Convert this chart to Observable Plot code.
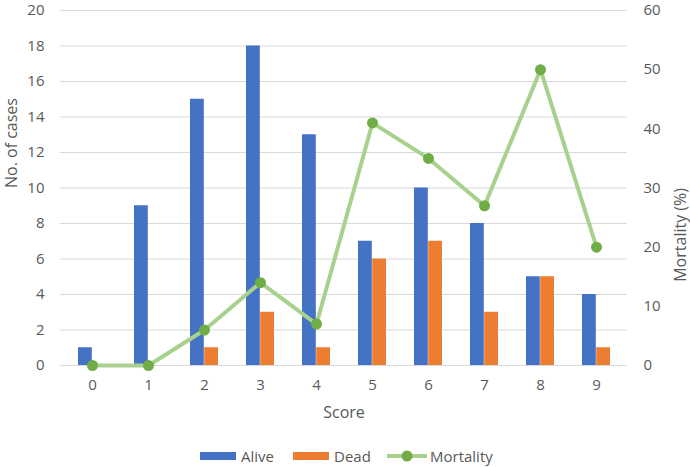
<!DOCTYPE html>
<html><head><meta charset="utf-8">
<script src="https://cdn.jsdelivr.net/npm/d3@7"></script>
<script src="https://cdn.jsdelivr.net/npm/@observablehq/plot@0.6"></script>
<style>
body{margin:0;background:#fff;font-family:"Open Sans",sans-serif;}
#legend{position:relative;height:37px;font-size:15px;color:#595959;}
.item{position:absolute;top:17px;display:flex;align-items:center;height:18px;transform:translateY(-50%);white-space:nowrap;}
.sw{width:36px;height:8px;margin-right:5px;}
</style></head>
<body><div id="chart"></div><div id="legend"></div>
<script>
const scores = ["0","1","2","3","4","5","6","7","8","9"];
const alive = [1, 9, 15, 18, 13, 7, 10, 8, 5, 4];
const dead = [0, 0, 1, 3, 1, 6, 7, 3, 5, 1];
const mortality = [0, 0, 6, 14, 7, 41, 35, 27, 50, 20];
const leftTicks = [0,2,4,6,8,10,12,14,16,18,20];
const rightTicks = [0,10,20,30,40,50,60];
const ratio = 20/60;

const data = scores.map((s,i)=>({score:s, alive:alive[i], dead:dead[i], mort:mortality[i]*ratio}));
const txt = "#595959";

const plot = Plot.plot({
  width: 690, height: 430,
  marginLeft: 60, marginRight: 63, marginTop: 10, marginBottom: 65,
  style: {fontFamily: "Open Sans, sans-serif", fontSize: "15px", color: txt, overflow: "visible"},
  x: {domain: scores, paddingInner: 0.5, paddingOuter: 0.25, axis: null},
  y: {domain: [0,20], axis: null},
  marks: [
    Plot.gridY(leftTicks, {stroke: "#d9d9d9", strokeOpacity: 1, strokeWidth: 1}),
    Plot.barY(data, {x: "score", y: "alive", fill: "#4472C4", insetRight: 14.2}),
    Plot.barY(data, {x: "score", y: "dead", fill: "#ED7D31", insetLeft: 14.2}),
    Plot.line(data, {x: "score", y: "mort", stroke: "#A9D18E", strokeWidth: 4}),
    Plot.dot(data, {x: "score", y: "mort", fill: "#70AD47", r: 5.5}),
    Plot.axisY(leftTicks, {anchor: "left", tickSize: 0, tickPadding: 16, label: null, fill: txt, fontSize: 15}),
    Plot.axisY(rightTicks.map(d=>d*ratio), {anchor: "right", tickSize: 0, tickPadding: 16, label: null, tickFormat: d => Math.round(d/ratio), fill: txt, fontSize: 15}),
    Plot.axisX({anchor: "bottom", tickSize: 0, tickPadding: 14, label: null, fill: txt, fontSize: 15}),
    Plot.text(["No. of cases"], {frameAnchor: "left", dx: -49, rotate: -90, fontSize: 16, fill: txt, lineAnchor: "middle"}),
    Plot.text(["Mortality (%)"], {frameAnchor: "right", dx: 53, rotate: -90, fontSize: 16, fill: txt, lineAnchor: "middle"}),
    Plot.text(["Score"], {frameAnchor: "bottom", dy: 47, fontSize: 16, fill: txt, lineAnchor: "middle"})
  ]
});
document.getElementById("chart").appendChild(plot);

const legend = document.getElementById("legend");
legend.style.marginTop = "9px";
legend.innerHTML = `
<div class="item" style="left:200px"><div class="sw" style="background:#4472C4"></div>Alive</div>
<div class="item" style="left:293px"><div class="sw" style="background:#ED7D31"></div>Dead</div>
<div class="item" style="left:387px"><svg width="40" height="12" style="margin-right:3px"><line x1="0" y1="6" x2="40" y2="6" stroke="#A9D18E" stroke-width="4"/><circle cx="20" cy="6" r="5.5" fill="#70AD47"/></svg>Mortality</div>`;
</script></body></html>
